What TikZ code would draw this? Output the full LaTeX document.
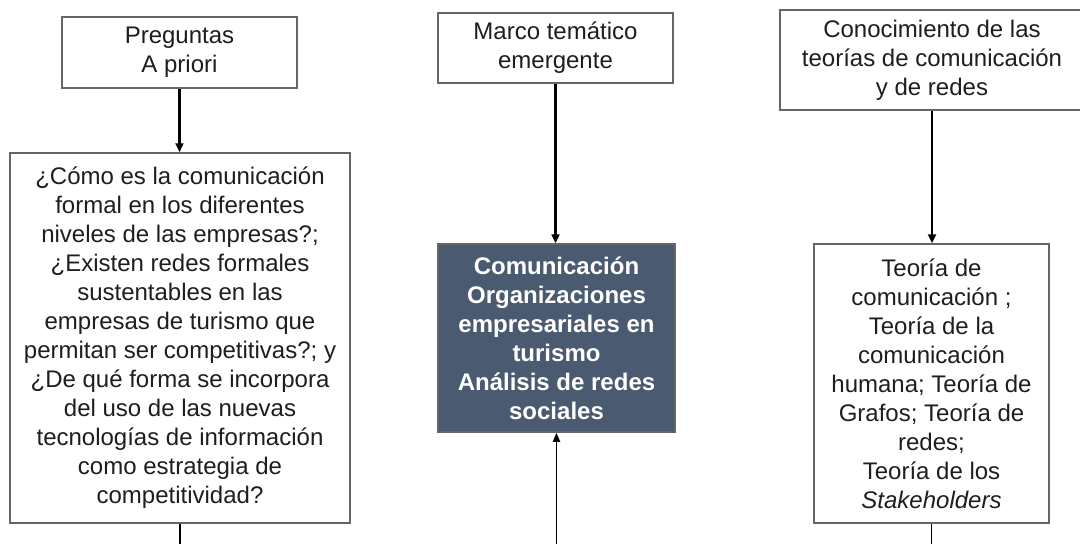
\documentclass[tikz,border=0pt]{standalone}
\usepackage{fontspec}
\setmainfont{Liberation Sans}
\usetikzlibrary{arrows.meta}
\definecolor{boxline}{HTML}{666666}
\definecolor{darkfill}{HTML}{4A5A70}
\definecolor{txt}{HTML}{1E1E1E}
\begin{document}
\begin{tikzpicture}[x=1pt,y=-1pt,
  box/.style={draw=boxline, line width=1.5pt, fill=white, align=center, text=txt,
    font=\fontsize{24}{29}\selectfont, inner sep=0pt},
  darkbox/.style={box, fill=darkfill, text=white, font=\bfseries\fontsize{24}{29}\selectfont},
  arr/.style={line width=2.5pt, -{Triangle[length=9pt,width=8pt]}},
  thinarr/.style={line width=1.8pt, -{Triangle[length=9pt,width=7pt]}},
  thinline/.style={line width=1.8pt}]
\useasboundingbox (0,0) rectangle (1080,544);
\node[box, minimum width=235pt, minimum height=71pt] (q) at (179.5,52.5) {Preguntas\\A priori};
\node[box, minimum width=340pt, minimum height=370pt] (qs) at (180,338) {¿Cómo es la comunicación\\formal en los diferentes\\niveles de las empresas?;\\¿Existen redes formales\\sustentables en las\\empresas de turismo que\\permitan ser competitivas?; y\\¿De qué forma se incorpora\\del uso de las nuevas\\tecnologías de información\\como estrategia de\\competitividad?};
\node[box, minimum width=235pt, minimum height=70pt] (m) at (555.5,48) {Marco temático\\emergente};
\node[darkbox, minimum width=237pt, minimum height=188pt] (c) at (556.5,338) {Comunicación\\Organizaciones\\empresariales en\\turismo\\Análisis de redes\\sociales};
\node[box, minimum width=304pt, minimum height=100pt] (k) at (932,60) {Conocimiento de las\\teorías de comunicación\\y de redes};
\node[box, minimum width=235pt, minimum height=279pt] (t) at (931.5,383.5) {Teoría de\\comunicación ;\\Teoría de la\\comunicación\\humana; Teoría de\\Grafos; Teoría de\\redes;\\Teoría de los\\\textit{Stakeholders}};
\coordinate (e1) at (180,550);
\coordinate (e2) at (556.5,550);
\coordinate (e3) at (931.5,550);
\draw[arr] (q.south) -- (q.south |- qs.north);
\draw[arr] (m.south) -- (m.south |- c.north);
\draw[arr] (k.south) -- (k.south |- t.north);
\draw[thinline] (qs.south) -- (e1);
\draw[thinarr] (e2) -- (c.south);
\draw[thinline] (t.south) -- (e3);
\end{tikzpicture}
\end{document}
